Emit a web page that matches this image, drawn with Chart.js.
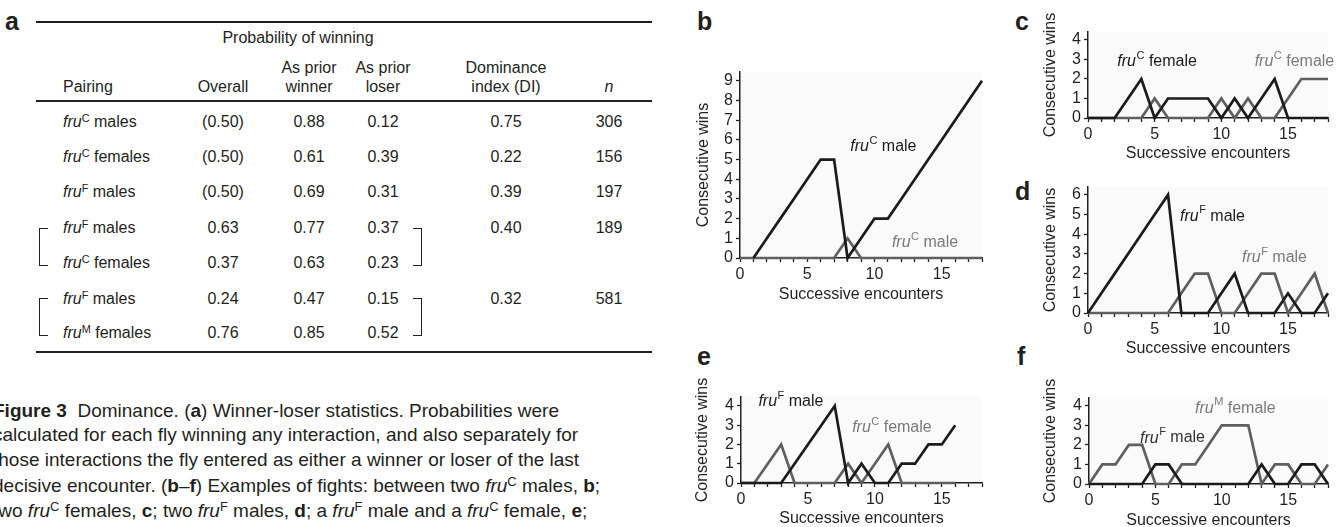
<!DOCTYPE html>
<html>
<head>
<meta charset="utf-8">
<script src="https://cdn.jsdelivr.net/npm/chart.js@4.4.1/dist/chart.umd.min.js"></script>
<style>
html,body{margin:0;padding:0;background:#fff;}
body{width:1343px;height:527px;overflow:hidden;position:relative;font-family:"Liberation Sans",Arial,sans-serif;color:#231f20;}
.t{position:absolute;white-space:nowrap;font-size:16px;line-height:1;}
.c{transform:translate(-50%,-50%);}
.l{transform:translateY(-50%);}
.rule{position:absolute;height:1.5px;background:#231f20;}
.panel{position:absolute;font-weight:bold;font-size:25px;line-height:1;}
.cap{position:absolute;left:-7px;font-size:19px;white-space:nowrap;line-height:1;transform:translateY(-50%);}
sup{font-size:0.68em;vertical-align:0;position:relative;top:-0.5em;}
canvas{position:absolute;}
</style>
</head>
<body>
<div id="table"></div>
<div class="panel" style="left:5px;top:9px">a</div>
<div class="panel" style="left:697px;top:9px">b</div>
<div class="panel" style="left:1015px;top:9px">c</div>
<div class="panel" style="left:1015px;top:179px">d</div>
<div class="panel" style="left:697px;top:344px">e</div>
<div class="panel" style="left:1017px;top:344px">f</div>

<div class="cap" style="top:410px"><b>Figure 3</b>&nbsp; Dominance. (<b>a</b>) Winner-loser statistics. Probabilities were</div>
<div class="cap" style="top:434px">calculated for each fly winning any interaction, and also separately for</div>
<div class="cap" style="top:459px">those interactions the fly entered as either a winner or loser of the last</div>
<div class="cap" style="top:485px">decisive encounter. (<b>b</b>–<b>f</b>) Examples of fights: between two <i>fru</i><sup>C</sup> males, <b>b</b>;</div>
<div class="cap" style="top:510px">two <i>fru</i><sup>C</sup> females, <b>c</b>; two <i>fru</i><sup>F</sup> males, <b>d</b>; a <i>fru</i><sup>F</sup> male and a <i>fru</i><sup>C</sup> female, <b>e</b>;</div>
<div class="cap" style="top:536px">and a <i>fru</i><sup>F</sup> male and a <i>fru</i><sup>M</sup> female, <b>f</b>.</div>

<script>
// table a
const pairGenotype = ['C','C','F','F','C','F','M'];
const pairSex = ['males','females','males','males','females','males','females'];
const overall = ['(0.50)','(0.50)','(0.50)','0.63','0.37','0.24','0.76'];
const priorWinner = ['0.88','0.61','0.69','0.77','0.63','0.47','0.85'];
const priorLoser = ['0.12','0.39','0.31','0.37','0.23','0.15','0.52'];
const dominance = ['0.75','0.22','0.39','0.40','','0.32',''];
const nFights = ['306','156','197','189','','581',''];

// fight traces b-f, consecutive wins per encounter
const encounters = [0,1,2,3,4,5,6,7,8,9,10,11,12,13,14,15,16,17,18];
const bBlack = [null,0,1,2,3,4,5,5,0,1,2,2,3,4,5,6,7,8,9];
const bGray  = [0,0,0,0,0,0,0,0,1,0,0,0,0,0,0,0,0,0,0];
const cBlack = [0,0,0,1,2,0,1,1,1,1,0,1,0,1,2,0,0,0,0];
const cGray  = [0,0,0,0,0,1,0,0,0,0,1,0,1,0,0,1,2,2,2];
const dBlack = [0,1,2,3,4,5,6,0,0,0,1,2,0,0,0,1,0,0,1];
const dGray  = [0,0,0,0,0,0,0,1,2,2,0,0,1,2,2,0,1,2,0];
const eBlack = [0,0,0,0,1,2,3,4,0,1,0,0,1,1,2,2,3,null,null];
const eGray  = [0,0,1,2,0,0,0,0,1,0,1,2,0,0,0,0,0,null,null];
const fBlack = [0,0,0,0,0,1,1,0,0,0,0,0,0,1,0,0,1,1,0];
const fGray  = [0,1,1,2,2,0,0,1,1,2,3,3,3,0,1,1,0,0,1];

// tick labels
const xTickLabels = [0,5,10,15];
const bYTicks = [0,1,2,3,4,5,6,7,8,9];
const cYTicks = [0,1,2,3,4];
const dYTicks = [0,1,2,3,4,5,6];
const eYTicks = [0,1,2,3,4];
const fYTicks = [0,1,2,3,4];

const ink = '#231f20';
const blackLine = '#1b1b1b';
const grayLine = '#5f5f5f';
const fontFam = '"Liberation Sans", Arial, sans-serif';

// ---- table ----
const tbl = document.getElementById('table');
function txt(html, x, y, cls){
  const d = document.createElement('div');
  d.className = 't ' + cls;
  d.style.left = x + 'px';
  d.style.top = y + 'px';
  d.innerHTML = html;
  tbl.appendChild(d);
}
function rule(x, y, w){
  const d = document.createElement('div');
  d.className = 'rule';
  d.style.left = x + 'px'; d.style.top = y + 'px'; d.style.width = w + 'px';
  tbl.appendChild(d);
}
rule(36, 21, 616);
rule(36, 100, 616);
rule(36, 351, 616);
txt('Probability of winning', 298, 38, 'c');
txt('As prior', 309, 68, 'c');
txt('As prior', 383, 68, 'c');
txt('Dominance', 506, 68, 'c');
txt('Pairing', 63, 87, 'l');
txt('Overall', 223, 87, 'c');
txt('winner', 309, 87, 'c');
txt('loser', 383, 87, 'c');
txt('index (DI)', 506, 87, 'c');
txt('<i>n</i>', 609, 87, 'c');
const rowY = [122,157,192,228,263,299,333];
rowY.forEach((y, i) => {
  txt('<i>fru</i><sup>' + pairGenotype[i] + '</sup> ' + pairSex[i], 63, y, 'l');
  txt(overall[i], 223, y, 'c');
  txt(priorWinner[i], 309, y, 'c');
  txt(priorLoser[i], 383, y, 'c');
  if (dominance[i]) txt(dominance[i], 506, y, 'c');
  if (nFights[i]) txt(nFights[i], 609, y, 'c');
});
// brackets joining the mixed pairings
function bracket(x, y, h, side){
  const d = document.createElement('div');
  d.style.position = 'absolute';
  d.style.left = x + 'px'; d.style.top = y + 'px';
  d.style.width = '8px'; d.style.height = h + 'px';
  d.style.borderTop = d.style.borderBottom = '1.5px solid ' + ink;
  d.style['border' + side] = '1.5px solid ' + ink;
  tbl.appendChild(d);
}
bracket(39, 228, 36, 'Left');
bracket(413, 228, 36, 'Right');
bracket(39, 298, 36, 'Left');
bracket(413, 298, 36, 'Right');

// ---- charts ----
const notesPlugin = {
  id: 'notes',
  beforeDraw(chart){
    const a = chart.chartArea, ctx = chart.ctx;
    ctx.save();
    ctx.fillStyle = '#fafafa';
    ctx.fillRect(a.left, a.top, a.right - a.left, a.bottom - a.top);
    ctx.restore();
  },
  afterDatasetsDraw(chart, args, opts){
    const ctx = chart.ctx;
    const xs = chart.scales.x, ys = chart.scales.y;
    ctx.save();
    ctx.textBaseline = 'middle';
    opts.items.forEach(n => {
      let x = xs.getPixelForValue(n.x);
      const y = ys.getPixelForValue(n.y);
      ctx.fillStyle = n.color;
      ctx.font = 'italic 16px ' + fontFam;
      ctx.fillText('fru', x, y);
      x += ctx.measureText('fru').width + 0.5;
      ctx.font = '11px ' + fontFam;
      ctx.fillText(n.sup, x, y - 6);
      x += ctx.measureText(n.sup).width;
      ctx.font = '16px ' + fontFam;
      ctx.fillText(n.rest, x, y);
    });
    ctx.restore();
  }
};

function makeChart(g, black, gray, ymax, yTicks, notes){
  const lh = 19.2, padTop = 40, padRight = 8;
  const W = Math.round(g.axisX - g.titleX + lh / 2);
  const H = Math.round(g.titleY + lh / 2 - g.bottom);
  const cw = W + (g.right - g.axisX) + padRight;
  const ch = padTop + (g.bottom - g.top) + H;
  const cv = document.createElement('canvas');
  cv.width = cw; cv.height = ch;
  cv.style.width = cw + 'px'; cv.style.height = ch + 'px';
  cv.style.left = (g.axisX - W) + 'px';
  cv.style.top = (g.top - padTop) + 'px';
  document.body.appendChild(cv);

  const axisFont = {family: fontFam, size: 16};
  const pts = arr => arr.map((v, i) => ({x: encounters[i], y: v}));
  const line = (arr, col) => ({
    data: pts(arr), borderColor: col, borderWidth: 2.7, pointRadius: 0,
    tension: 0, borderJoinStyle: 'miter', clip: false, spanGaps: false
  });

  new Chart(cv, {
    type: 'line',
    data: {datasets: [line(black, blackLine), line(gray, grayLine)]},
    options: {
      responsive: false,
      animation: false,
      layout: {padding: {top: padTop, right: padRight, left: 0, bottom: 0}},
      plugins: {legend: {display: false}, tooltip: {enabled: false}, notes: {items: notes}},
      scales: {
        x: {
          type: 'linear', min: 0, max: 18,
          afterFit(s){ s.height = H; },
          afterBuildTicks(s){ s.ticks = encounters.map(v => ({value: v})); },
          border: {display: true, color: ink, width: 1.5},
          grid: {drawOnChartArea: false, drawTicks: true, tickLength: 4, tickColor: ink, tickWidth: 1.3},
          ticks: {autoSkip: false, maxRotation: 0, padding: 3, color: ink, font: axisFont,
                  callback: v => xTickLabels.includes(v) ? String(v) : ''},
          title: {display: true, text: 'Successive encounters', color: ink, font: axisFont, padding: 0}
        },
        y: {
          min: 0, max: ymax,
          afterFit(s){ s.width = W; },
          afterBuildTicks(s){ s.ticks = yTicks.map(v => ({value: v})); },
          border: {display: true, color: ink, width: 1.5},
          grid: {drawOnChartArea: false, drawTicks: true, tickLength: 4, tickColor: ink, tickWidth: 1.3},
          ticks: {autoSkip: false, padding: 3, color: ink, font: axisFont},
          title: {display: true, text: 'Consecutive wins', color: ink, font: axisFont, padding: 0}
        }
      }
    },
    plugins: [notesPlugin]
  });
}

const darkNote = '#1b1b1b', grayNote = '#7a7a7a';
makeChart({axisX: 740, right: 982, top: 72, bottom: 258, titleX: 704, titleY: 294}, bBlack, bGray, 9.45, bYTicks, [
  {x: 8.2, y: 5.65, sup: 'C', rest: ' male', color: darkNote},
  {x: 11.3, y: 0.76, sup: 'C', rest: ' male', color: grayNote}
]);
makeChart({axisX: 1088, right: 1328, top: 32, bottom: 118, titleX: 1051, titleY: 153}, cBlack, cGray, 4.41, cYTicks, [
  {x: 2.2, y: 2.87, sup: 'C', rest: ' female', color: darkNote},
  {x: 12.5, y: 2.87, sup: 'C', rest: ' female', color: grayNote}
]);
makeChart({axisX: 1088, right: 1328, top: 187, bottom: 313, titleX: 1051, titleY: 348}, dBlack, dGray, 6.4, dYTicks, [
  {x: 6.9, y: 4.92, sup: 'F', rest: ' male', color: darkNote},
  {x: 11.55, y: 2.8, sup: 'F', rest: ' male', color: grayNote}
]);
makeChart({axisX: 741, right: 982, top: 397, bottom: 483, titleX: 703, titleY: 518}, eBlack, eGray, 4.46, eYTicks, [
  {x: 1.3, y: 4.2, sup: 'F', rest: ' male', color: darkNote},
  {x: 8.3, y: 2.86, sup: 'C', rest: ' female', color: grayNote}
]);
makeChart({axisX: 1089, right: 1328, top: 398, bottom: 484, titleX: 1051, titleY: 520}, fBlack, fGray, 4.4, fYTicks, [
  {x: 3.84, y: 2.35, sup: 'F', rest: ' male', color: '#333333'},
  {x: 7.98, y: 3.88, sup: 'M', rest: ' female', color: grayNote}
]);
</script>
</body>
</html>
